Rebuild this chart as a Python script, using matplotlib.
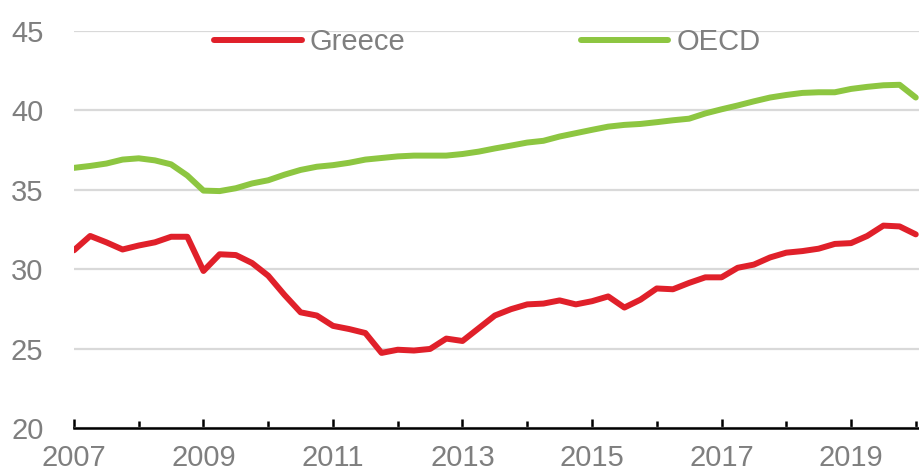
import numpy as np
import matplotlib
matplotlib.use("Agg")
import matplotlib.pyplot as plt
from matplotlib.ticker import MultipleLocator, FixedLocator

# quarterly values, 2007Q1 .. 2020Q1
start_year = 2007
greece = [31.2, 32.1, 31.7, 31.25,
          31.5, 31.7, 32.05, 32.05,
          29.9, 30.95, 30.9, 30.4,
          29.6, 28.4, 27.3, 27.1,
          26.45, 26.25, 26.0, 24.75,
          24.95, 24.9, 25.0, 25.65,
          25.5, 26.3, 27.1, 27.5,
          27.8, 27.85, 28.05, 27.8,
          28.0, 28.3, 27.6, 28.1,
          28.8, 28.75, 29.15, 29.5,
          29.5, 30.1, 30.3, 30.75,
          31.05, 31.15, 31.3, 31.6,
          31.65, 32.1, 32.75, 32.7,
          32.2]
oecd = [36.38, 36.5, 36.65, 36.9,
        36.98, 36.85, 36.6, 35.9,
        34.95, 34.92, 35.1, 35.4,
        35.6, 35.95, 36.25, 36.45,
        36.55, 36.7, 36.9, 37.0,
        37.1, 37.15, 37.15, 37.15,
        37.25, 37.4, 37.6, 37.78,
        37.97, 38.08, 38.35, 38.56,
        38.77, 38.97, 39.08, 39.14,
        39.25, 39.37, 39.47, 39.8,
        40.06, 40.3, 40.56, 40.8,
        40.96, 41.09, 41.13, 41.13,
        41.34, 41.47, 41.57, 41.6,
        40.8]
series_names = ["Greece", "OECD"]
label_years = [2007, 2009, 2011, 2013, 2015, 2017, 2019]

x = start_year + np.arange(len(greece)) / 4.0

text_col = "#7f7f7f"
fs = 21
plt.rcParams['font.family'] = ['Liberation Sans', 'DejaVu Sans']

fig = plt.figure(figsize=(9.19, 4.70), dpi=100)
ax = fig.add_axes([0.0805, 0.0883, 0.9195, 0.8464])

ax.plot(x, greece, color="#e0202a", lw=4.3, label=series_names[0], solid_capstyle="round")
ax.plot(x, oecd, color="#8dc641", lw=4.3, label=series_names[1], solid_capstyle="round")

ax.set_xlim(2007, 2020.05)
ax.set_ylim(20, 45)
ax.yaxis.set_major_locator(MultipleLocator(5))
ax.xaxis.set_major_locator(FixedLocator(label_years))
ax.xaxis.set_minor_locator(MultipleLocator(1))
ax.xaxis.set_major_formatter(matplotlib.ticker.FuncFormatter(lambda v, p: "%d" % v))

ax.grid(axis="y", color="#d9d9d9", lw=1.6)
ax.set_axisbelow(True)
for s in ["top", "right", "left"]:
    ax.spines[s].set_visible(False)
ax.spines["bottom"].set_linewidth(1.8)
ax.spines["bottom"].set_color("black")
ax.spines["bottom"].set_zorder(5)

ax.tick_params(axis="y", length=0, pad=22, labelsize=fs, labelcolor=text_col)
ax.tick_params(axis="x", which="major", direction="in", length=6.5, width=1.8,
               pad=11, labelsize=fs, labelcolor=text_col)
ax.tick_params(axis="x", which="minor", direction="in", length=4.8, width=1.8)

leg = ax.legend(loc="center", bbox_to_anchor=(0.489, 0.971), ncol=2, frameon=False,
                handlelength=3.0, handletextpad=0.28, columnspacing=6.0,
                borderpad=0, fontsize=fs)
for t in leg.get_texts():
    t.set_color(text_col)

fig.savefig("out.png", dpi=100)
